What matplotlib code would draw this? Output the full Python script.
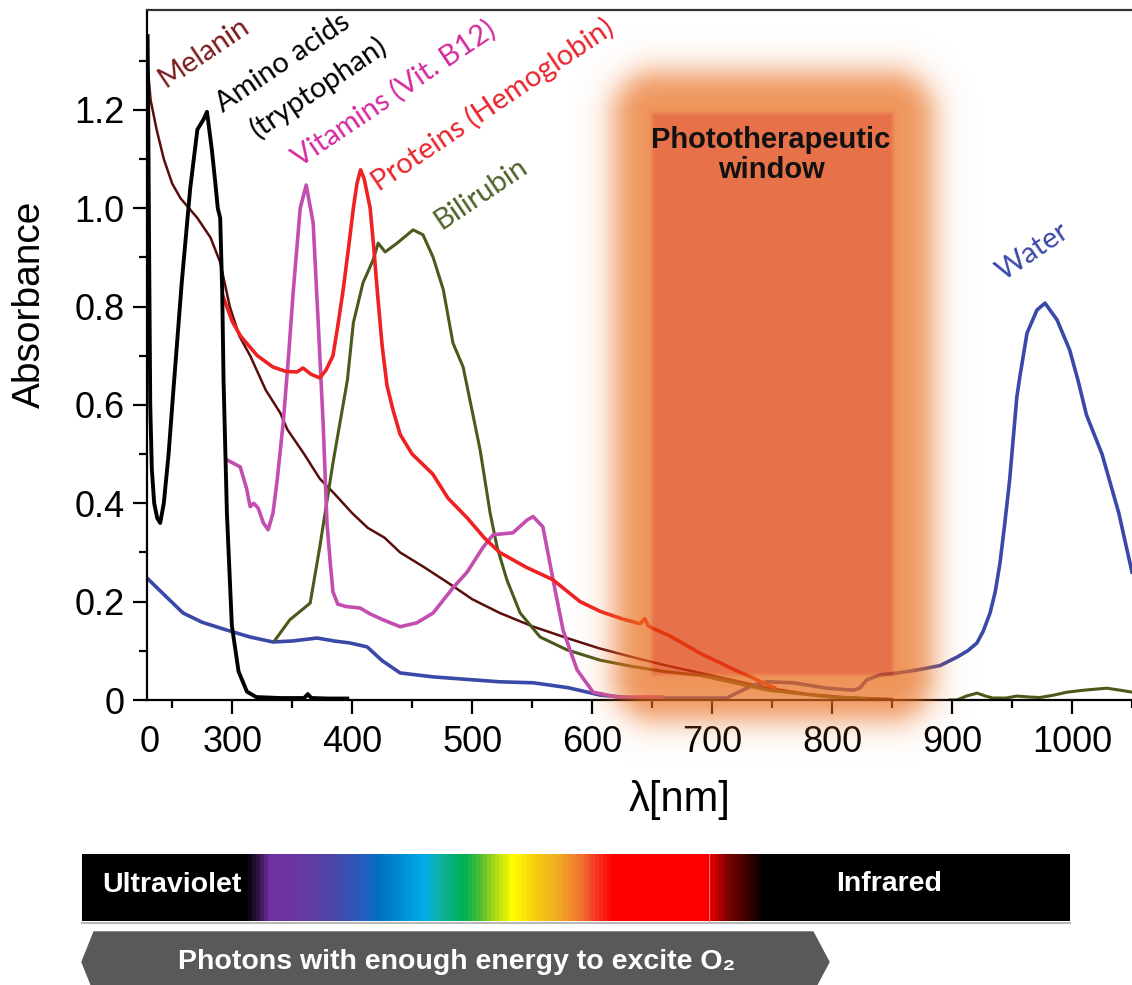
import numpy as np
import matplotlib
matplotlib.use('Agg')
import matplotlib.pyplot as plt
from matplotlib.colors import LinearSegmentedColormap
from matplotlib.patches import Polygon
from matplotlib.ticker import FixedLocator

W, H = 1132, 985

# spectra: wavelength [nm], absorbance
amino_nm = [229.5, 230, 230.8, 231.7, 233, 235, 237.5, 240, 243, 247, 251, 258, 265, 271, 276, 279,
            283, 286, 288, 290, 291.7, 292.8, 295.6, 299.7, 305.3, 312.3, 320, 340, 360, 363, 366, 380, 396]
amino_a = [1.35, 1.2, 0.9, 0.6, 0.47, 0.40, 0.37, 0.36, 0.40, 0.50, 0.63, 0.85, 1.04, 1.16, 1.18, 1.196,
           1.12, 1.05, 1.0, 0.98, 0.83, 0.65, 0.38, 0.152, 0.058, 0.017, 0.006, 0.004, 0.004, 0.012, 0.004, 0.003, 0.003]

melanin_nm = [229.5, 232, 237, 243, 250, 257, 271, 282, 290, 298, 306, 315, 328, 340, 346, 360, 373, 385,
              400, 413, 427, 440, 460, 482, 500, 523, 550, 579, 606, 634, 662, 690, 718, 746, 780, 815, 850]
melanin_a = [1.29, 1.22, 1.16, 1.10, 1.05, 1.02, 0.98, 0.94, 0.89, 0.80, 0.74, 0.70, 0.63, 0.584, 0.55, 0.50,
             0.45, 0.42, 0.38, 0.35, 0.33, 0.30, 0.27, 0.235, 0.205, 0.177, 0.15, 0.126, 0.105, 0.087, 0.07,
             0.055, 0.04, 0.025, 0.012, 0.005, 0.002]

protein_nm = [292.5, 300, 307, 314, 321, 334, 345, 354, 359, 366, 373, 378, 384, 388, 392.5, 397, 401, 404,
              407, 410, 415, 418, 421, 425, 429, 434, 440, 450, 467, 480, 496, 510, 523, 545, 567, 590, 607,
              625, 640, 644, 647, 665, 690, 720, 752]
protein_a = [0.82, 0.77, 0.74, 0.72, 0.70, 0.677, 0.668, 0.667, 0.675, 0.662, 0.655, 0.67, 0.70, 0.76, 0.834,
             0.92, 1.0, 1.05, 1.078, 1.06, 1.0, 0.92, 0.83, 0.72, 0.64, 0.59, 0.54, 0.50, 0.46, 0.41, 0.37,
             0.33, 0.30, 0.27, 0.245, 0.20, 0.18, 0.165, 0.155, 0.165, 0.15, 0.13, 0.095, 0.06, 0.025]

vitamin_nm = [295.8, 306.7, 312, 315, 318, 321.7, 326, 330, 334, 337.5, 342.5, 347, 351, 356.7, 361.7, 367.5,
              371.7, 375.8, 379, 381.7, 384, 388, 395, 406.7, 415, 425.8, 440, 454, 467.5, 484, 495.8, 509,
              517.5, 534, 545.8, 550.8, 559, 567.5, 575.8, 587.5, 600.8, 620.8, 640, 659]
vitamin_a = [0.488, 0.474, 0.43, 0.393, 0.40, 0.39, 0.36, 0.346, 0.38, 0.447, 0.563, 0.70, 0.834, 1.0, 1.047,
             0.97, 0.767, 0.563, 0.36, 0.28, 0.22, 0.195, 0.19, 0.187, 0.175, 0.163, 0.149, 0.157, 0.177,
             0.228, 0.26, 0.31, 0.336, 0.34, 0.366, 0.373, 0.352, 0.244, 0.142, 0.061, 0.016, 0.006, 0.006, 0.006]

bili_nm = [335.8, 348, 365, 373, 384, 396, 401, 409, 417.5, 421.7, 427.5, 437.5, 450.8, 459, 467.5, 476, 484,
           492.5, 501, 506.7, 515, 520.8, 529, 540, 556.7, 579, 606.7, 634, 660, 690, 720, 746, 798, 831]
bili_a = [0.122, 0.163, 0.197, 0.311, 0.482, 0.65, 0.767, 0.848, 0.895, 0.929, 0.911, 0.929, 0.956, 0.946,
          0.90, 0.834, 0.726, 0.677, 0.576, 0.508, 0.38, 0.311, 0.244, 0.177, 0.128, 0.102, 0.081, 0.068,
          0.058, 0.05, 0.034, 0.02, 0.006, 0.003]
bili_ir_nm = [898, 904, 912, 920.8, 928, 934, 945, 954, 965, 973, 985, 996, 1010, 1029, 1040, 1050]
bili_ir_a = [0.0, 0.0, 0.008, 0.014, 0.008, 0.004, 0.004, 0.008, 0.006, 0.005, 0.01, 0.016, 0.02, 0.024, 0.02, 0.016]

water_nm = [229, 245, 259, 275, 295.8, 315, 334, 350, 370.8, 385, 398, 412.5, 425, 440, 467.5, 495, 523, 551,
            580, 606.7, 630, 660, 690, 712, 734, 746, 767.5, 795.8, 817.5, 823, 829, 840, 855, 870.8, 890, 904,
            913, 920.8, 926, 931.7, 936, 940, 944, 948, 954, 956.7, 962.5, 970.8, 977.5, 987.5, 998, 1005,
            1012, 1025, 1039, 1050]
water_a = [0.248, 0.21, 0.177, 0.158, 0.142, 0.128, 0.118, 0.12, 0.126, 0.12, 0.116, 0.108, 0.08, 0.055, 0.047,
           0.042, 0.037, 0.035, 0.025, 0.01, 0.005, 0.004, 0.004, 0.004, 0.03, 0.037, 0.035, 0.024, 0.02, 0.024,
           0.041, 0.051, 0.055, 0.061, 0.07, 0.087, 0.1, 0.116, 0.14, 0.177, 0.22, 0.279, 0.36, 0.447, 0.616,
           0.66, 0.746, 0.793, 0.807, 0.773, 0.712, 0.65, 0.58, 0.50, 0.38, 0.26]

x_ticks = [231, 300, 400, 500, 600, 700, 800, 900, 1000]
x_labels = ['0', '300', '400', '500', '600', '700', '800', '900', '1000']
y_ticks = [0, 0.2, 0.4, 0.6, 0.8, 1.0, 1.2]
y_labels = ['0', '0.2', '0.4', '0.6', '0.8', '1.0', '1.2']

plt.rcParams['font.family'] = ['Liberation Sans', 'DejaVu Sans']

fig = plt.figure(figsize=(W / 100, H / 100), dpi=100)
ax = fig.add_axes([147 / W, 1 - 700 / H, (W - 147) / W, 690 / H])

ax.plot(melanin_nm, melanin_a, color='#5a0d0d', lw=1.8)
ax.plot(water_nm, water_a, color='#3a48a8', lw=2.6)
ax.plot(bili_nm, bili_a, color='#4a5a1a', lw=2.2)
ax.plot(bili_ir_nm, bili_ir_a, color='#4a5a1a', lw=2.2)
ax.plot(vitamin_nm, vitamin_a, color='#c24fb0', lw=2.6)
ax.plot(protein_nm, protein_a, color='#ee2222', lw=2.6)
ax.plot(amino_nm, amino_a, color='black', lw=2.8)

ax.set_xlim(229, 1050)
ax.set_ylim(0, 1.403)
ax.set_xticks(x_ticks)
ax.set_xticklabels(x_labels)
ax.xaxis.set_minor_locator(FixedLocator([250, 350, 450, 550, 650, 750, 850, 950, 1050]))
ax.set_yticks(y_ticks)
ax.set_yticklabels(y_labels)
ax.yaxis.set_minor_locator(FixedLocator([0.1, 0.3, 0.5, 0.7, 0.9, 1.1, 1.3]))
ax.xaxis.get_major_ticks()[0].tick1line.set_visible(False)
ax.tick_params(which='major', direction='out', length=10, width=1.6, labelsize=26, pad=6)
ax.tick_params(axis='x', which='major', pad=8)
ax.tick_params(which='minor', direction='out', length=6, width=1.6)
ax.spines['right'].set_visible(False)
for s in ['left', 'bottom']:
    ax.spines[s].set_linewidth(1.6)
ax.spines['top'].set_linewidth(1.6)
ax.spines['top'].set_color('#333333')

fig.text(30 / W, 1 - 304 / H, 'Absorbance', rotation=90, ha='center', va='center', fontsize=28)
fig.text(680 / W, 1 - 800 / H, 'λ[nm]', ha='center', va='center', fontsize=30)

# overlay in pixel coordinates
ov = fig.add_axes([0, 0, 1, 1], zorder=5)
ov.set_xlim(0, W)
ov.set_ylim(H, 0)
ov.axis('off')
ov.patch.set_alpha(0)

yy, xx = np.mgrid[0:H, 0:W] + 0.5


def rr_dist(x0, x1, y0, y1, r):
    cx, cy = (x0 + x1) / 2, (y0 + y1) / 2
    hx, hy = (x1 - x0) / 2, (y1 - y0) / 2
    qx = np.abs(xx - cx) - hx + r
    qy = np.abs(yy - cy) - hy + r
    return np.hypot(np.maximum(qx, 0), np.maximum(qy, 0)) + np.minimum(np.maximum(qx, qy), 0) - r


d_out = np.clip(rr_dist(614, 933, 72, 720, 45), -80, 80)
d_in = np.clip(rr_dist(652, 893, 113, 675, 0), -60, 60)
a_out = 0.74 / (1 + np.exp(d_out / 9.0))
w_in = 1 / (1 + np.exp(d_in / 1.0))
glow_c = np.array([234, 110, 30]) / 255
inner_c = np.array([223, 62, 8]) / 255
img = np.zeros((H, W, 4))
img[..., :3] = w_in[..., None] * inner_c + (1 - w_in[..., None]) * glow_c
img[..., 3] = a_out
ov.imshow(img, extent=(0, W, H, 0), interpolation='bilinear', aspect='auto', zorder=1)

ov.text(771, 155, 'Phototherapeutic\nwindow', ha='center', va='center', fontsize=21,
        fontweight='bold', linespacing=1.1, color='#111111', zorder=5)

# curve labels
lab = dict(rotation=34, rotation_mode='anchor', ha='left', va='baseline', fontsize=21,
           family=['Lato', 'DejaVu Sans'], zorder=6)
ov.text(165, 88, 'Melanin', color='#7b1c1c', **lab)
ov.text(223, 113, 'Amino acids', color='black', **lab)
ov.text(258, 139, '(tryptophan)', color='black', **lab)
ov.text(300, 167, 'Vitamins (Vit. B12)', color='#d42a9e', **lab)
ov.text(379, 192, 'Proteins (Hemoglobin)', color='#e8262e', **lab)
ov.text(441, 230, 'Bilirubin', color='#4f6228', **lab)
ov.text(1004, 281, 'Water', color='#3a48a8', **lab)

# spectrum bar
stops = [(82, '#000000'), (245, '#000000'), (258, '#3a1550'), (268, '#7030a0'), (300, '#6a38a4'),
         (333, '#4a48a8'), (364, '#2060c0'), (379, '#0070c0'), (414, '#00a0e0'), (425, '#00b0e8'),
         (440, '#10b0a0'), (464, '#00b050'), (483, '#60c030'), (498, '#c0e010'), (513, '#ffff00'),
         (533, '#f8d010'), (556, '#f0b020'), (582, '#f07030'), (598, '#f83020'), (613, '#ff0000'),
         (707, '#ff0000'), (728, '#800000'), (765, '#000000'), (1070, '#000000')]
cm = LinearSegmentedColormap.from_list('spec', [((p - 82) / (1070 - 82), c) for p, c in stops])
ov.imshow(np.linspace(0, 1, 988)[None, :], cmap=cm, extent=(82, 1070, 921, 854),
          aspect='auto', interpolation='bilinear', zorder=2)
ov.plot([709, 709], [854, 921], color='#ff7070', lw=0.8, zorder=3)
ov.plot([82, 1070], [922.5, 922.5], color='#b8b8b8', lw=1.5, zorder=3)
ov.text(102, 885, 'Ultraviolet', color='white', fontsize=20.5, fontweight='bold', ha='left', va='center', zorder=4)
ov.text(889, 884, 'Infrared', color='white', fontsize=20.5, fontweight='bold', ha='center', va='center', zorder=4)

ov.add_patch(Polygon([(94, 932), (813, 932), (829, 962), (813, 992), (94, 992), (82, 962)],
                     closed=True, color='#595959', zorder=2))
ov.text(457, 962, 'Photons with enough energy to excite O₂', color='white', fontsize=20.5,
        fontweight='bold', ha='center', va='center', zorder=4)

ov.set_xlim(0, W)
ov.set_ylim(H, 0)

fig.savefig('out.png', dpi=100)
